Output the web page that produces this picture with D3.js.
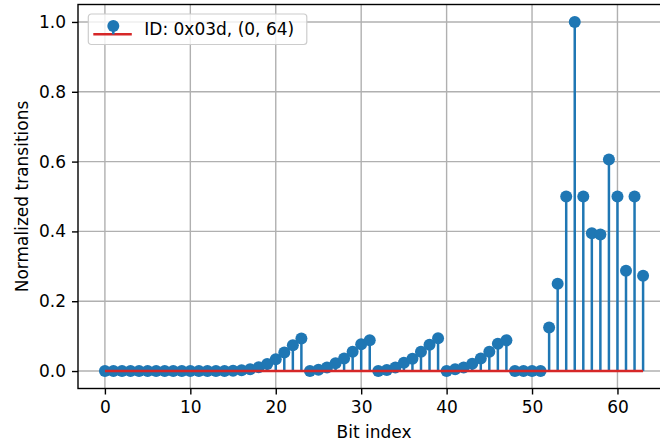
<!doctype html>
<html lang="en">
  <head>
    <meta charset="utf-8">
    <script src="https://cdn.jsdelivr.net/npm/d3@7"></script>
    <style>
      body { margin:0; background:white; font-family: "DejaVu Sans", sans-serif }
      svg { display:block }
    </style>
    <title>Stem plot</title>
  </head>
  <body>
    <script>
      // normalized transitions per bit
      const bits = d3.range(64);
      const values = [
        0, 0, 0, 0, 0, 0, 0, 0,
        0, 0, 0, 0, 0, 0, 0, 0.001,
        0.002, 0.005, 0.011, 0.02, 0.034, 0.053, 0.074, 0.093,
        0, 0.004, 0.01, 0.022, 0.036, 0.055, 0.077, 0.088,
        0, 0.003, 0.01, 0.024, 0.035, 0.055, 0.075, 0.094,
        0, 0.005, 0.01, 0.021, 0.036, 0.055, 0.078, 0.088,
        0, 0, 0, 0, 0.125, 0.25, 0.5, 1.0,
        0.5, 0.395, 0.391, 0.606, 0.5, 0.287, 0.5, 0.273
      ];
      const xTicks = [0, 10, 20, 30, 40, 50, 60];
      const yTicks = [0.0, 0.2, 0.4, 0.6, 0.8, 1.0];
      const legendLabel = "ID: 0x03d, (0, 64)";

      const W = 660, H = 446;
      const pLeft = 78, pRight = 670, pTop = 4.5, pBottom = 388.5;
      const blue = "#1f77b4", red = "#d62728";
      const fs = 17;
      const mr = 6;

      let x = d3.scaleLinear().domain([-3.15, 66.15]).range([pLeft, pRight]);
      let y = d3.scaleLinear().domain([-0.05, 1.05]).range([pBottom, pTop]);

      let svg = d3.select("body").append("svg")
        .attr("width", W).attr("height", H)
        .attr("font-family", "DejaVu Sans");

      // grid
      let grid = svg.append("g");
      grid.selectAll(".gx").data(xTicks).enter().append("line")
        .attr("x1", d => x(d)).attr("x2", d => x(d))
        .attr("y1", pTop).attr("y2", pBottom)
        .attr("stroke", "#b0b0b0").attr("stroke-width", 1.4);
      grid.selectAll(".gy").data(yTicks).enter().append("line")
        .attr("y1", d => y(d)).attr("y2", d => y(d))
        .attr("x1", pLeft).attr("x2", pRight)
        .attr("stroke", "#b0b0b0").attr("stroke-width", 1.4);

      // stems
      svg.append("g").selectAll("line").data(bits).enter().append("line")
        .attr("x1", d => x(d)).attr("x2", d => x(d))
        .attr("y1", y(0)).attr("y2", d => y(values[d]))
        .attr("stroke", blue).attr("stroke-width", 2.5);

      // markers
      svg.append("g").selectAll("circle").data(bits).enter().append("circle")
        .attr("cx", d => x(d)).attr("cy", d => y(values[d]))
        .attr("r", mr).attr("fill", blue);

      // baseline on top
      svg.append("line")
        .attr("x1", x(d3.min(bits))).attr("x2", x(d3.max(bits)))
        .attr("y1", y(0)).attr("y2", y(0))
        .attr("stroke", red).attr("stroke-width", 2.6);

      // axes
      let xAxis = d3.axisBottom(x).tickValues(xTicks).tickFormat(d3.format("d")).tickSize(6).tickPadding(6);
      let yAxis = d3.axisLeft(y).tickValues(yTicks).tickFormat(d3.format(".1f")).tickSize(6).tickPadding(6);

      let gx = svg.append("g").attr("transform", "translate(0," + pBottom + ")").call(xAxis);
      let gy = svg.append("g").attr("transform", "translate(" + pLeft + ",0)").call(yAxis);
      [gx, gy].forEach(g => {
        g.attr("font-size", fs).attr("font-family", "DejaVu Sans");
        g.select(".domain").remove();
        g.selectAll(".tick line").attr("stroke", "black").attr("stroke-width", 1.4);
        g.selectAll(".tick text").attr("fill", "#000");
      });

      // frame
      svg.append("rect")
        .attr("x", pLeft).attr("y", pTop)
        .attr("width", pRight - pLeft).attr("height", pBottom - pTop)
        .attr("fill", "none").attr("stroke", "black").attr("stroke-width", 1.4);

      // axis labels
      svg.append("text")
        .attr("x", (pLeft + pRight) / 2).attr("y", 438)
        .attr("text-anchor", "middle").attr("font-size", fs)
        .text("Bit index");
      svg.append("text")
        .attr("transform", "translate(28," + ((pTop + pBottom) / 2) + ") rotate(-90)")
        .attr("text-anchor", "middle").attr("font-size", fs)
        .text("Normalized transitions");

      // legend
      let lg = svg.append("g").attr("transform", "translate(88.3,14)");
      lg.append("rect")
        .attr("width", 218.5).attr("height", 30.5).attr("rx", 3)
        .attr("fill", "white").attr("fill-opacity", 0.8)
        .attr("stroke", "#cccccc").attr("stroke-width", 1.2);
      lg.append("line")
        .attr("x1", 5).attr("x2", 43.5).attr("y1", 20.3).attr("y2", 20.3)
        .attr("stroke", red).attr("stroke-width", 2.6);
      lg.append("line")
        .attr("x1", 25).attr("x2", 25).attr("y1", 20.3).attr("y2", 12)
        .attr("stroke", blue).attr("stroke-width", 2.5);
      lg.append("circle")
        .attr("cx", 25).attr("cy", 12).attr("r", mr).attr("fill", blue);
      lg.append("text")
        .attr("x", 56).attr("y", 21).attr("font-size", fs)
        .text(legendLabel);
    </script>
  </body>
</html>
